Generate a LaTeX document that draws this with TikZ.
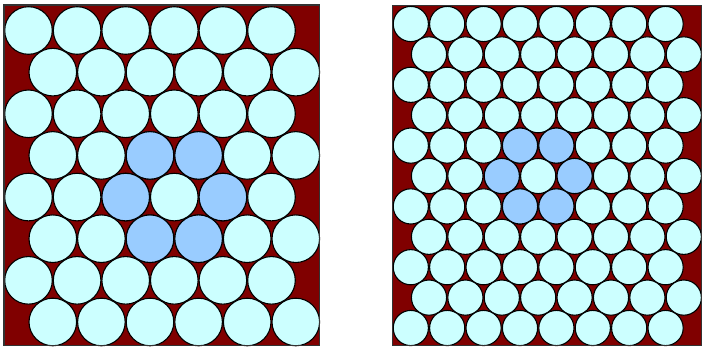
\documentclass[tikz,border=0pt]{standalone}
\begin{document}
\begin{tikzpicture}[x=1pt,y=-1pt,
  bg/.style={fill={rgb,255:red,128;green,0;blue,0}},
  frame/.style={draw=black!80,line width=1.3pt},
  disc/.style={fill={rgb,255:red,204;green,255;blue,255},draw=black,line width=1.1pt},
  hdisc/.style={fill={rgb,255:red,153;green,204;blue,255},draw=black,line width=1.1pt}]
\useasboundingbox (0,0) rectangle (703,346);
% left panel
\fill[bg] (4,5) rectangle (319.5,345.5);
\foreach \j in {0,...,7}{
  \pgfmathsetmacro{\off}{mod(\j,2)*24.3}
  \foreach \k in {0,...,5}{
    \pgfmathsetmacro{\cx}{28.5+\off+48.6*\k}
    \pgfmathsetmacro{\cy}{30.5+41.64*\j}
    \draw[disc] (\cx,\cy) circle[radius=23.8];
  }
}
\foreach \j/\k in {3/2,3/3,4/2,4/4,5/2,5/3}{
  \pgfmathsetmacro{\off}{mod(\j,2)*24.3}
  \pgfmathsetmacro{\cx}{28.5+\off+48.6*\k}
  \pgfmathsetmacro{\cy}{30.5+41.64*\j}
  \draw[hdisc] (\cx,\cy) circle[radius=23.8];
}
\draw[frame] (4,5) rectangle (319.5,345.5);
% right panel
\fill[bg] (392.7,5.3) rectangle (701.8,345.5);
\foreach \j in {0,...,10}{
  \pgfmathsetmacro{\off}{mod(\j,2)*18.2}
  \foreach \k in {0,...,7}{
    \pgfmathsetmacro{\cx}{410.8+\off+36.4*\k}
    \pgfmathsetmacro{\cy}{24+30.4*\j}
    \draw[disc] (\cx,\cy) circle[radius=17.6];
  }
}
\foreach \j/\k in {4/3,4/4,5/2,5/4,6/3,6/4}{
  \pgfmathsetmacro{\off}{mod(\j,2)*18.2}
  \pgfmathsetmacro{\cx}{410.8+\off+36.4*\k}
  \pgfmathsetmacro{\cy}{24+30.4*\j}
  \draw[hdisc] (\cx,\cy) circle[radius=17.6];
}
\draw[frame] (392.7,5.3) rectangle (701.8,345.5);
\end{tikzpicture}
\end{document}
